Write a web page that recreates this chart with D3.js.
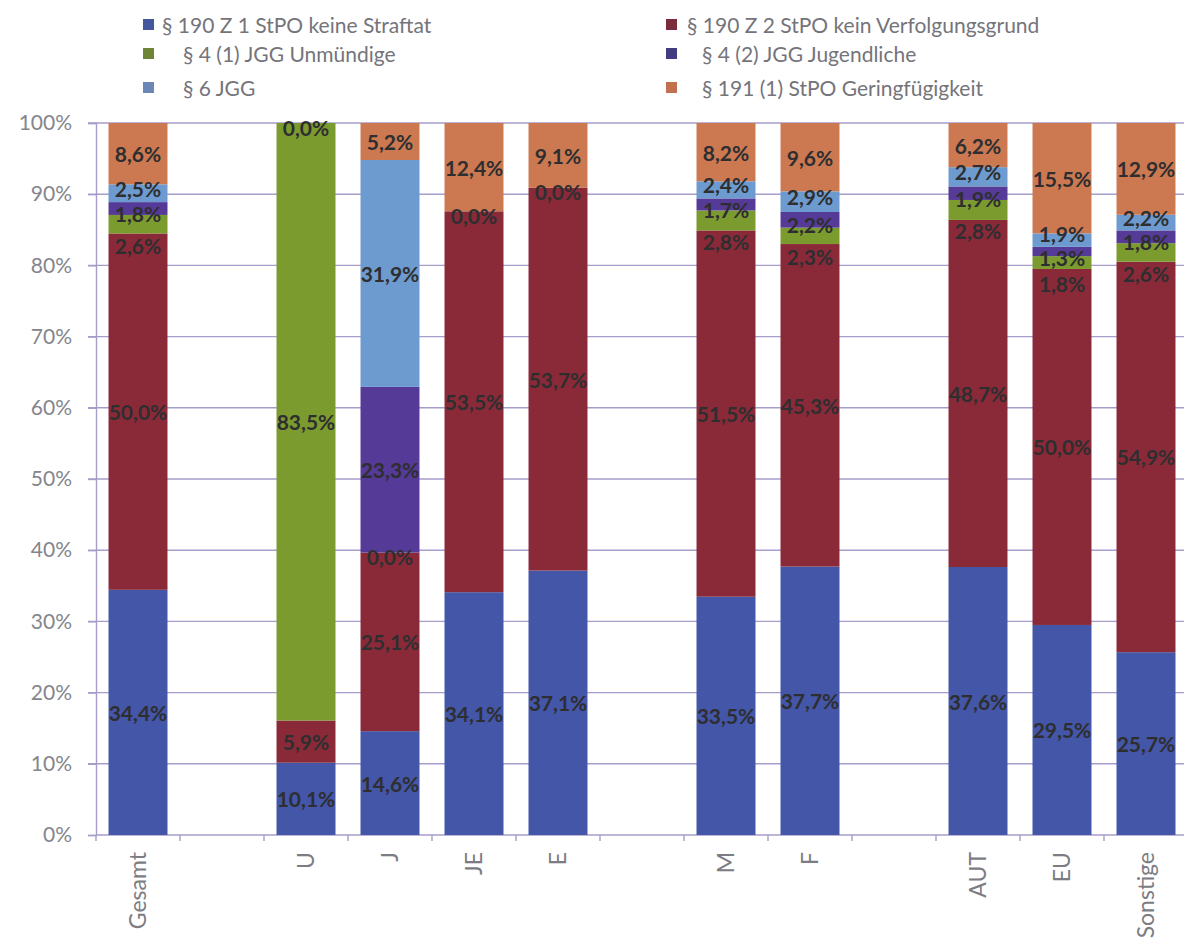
<!DOCTYPE html>
<html><head><meta charset="utf-8">
<script src="https://cdn.jsdelivr.net/npm/d3@7"></script>
<style>body{margin:0;background:#fff}</style></head>
<body>
<svg id="c" width="1184" height="938"></svg>
<script>
// ---- data ----
const categories = ["Gesamt", null, "U", "J", "JE", "E", null, "M", "F", null, "AUT", "EU", "Sonstige"];
const seriesNames = [
  "§ 190 Z 1 StPO keine Straftat",
  "§ 190 Z 2 StPO kein Verfolgungsgrund",
  "§ 4 (1) JGG Unmündige",
  "§ 4 (2) JGG Jugendliche",
  "§ 6 JGG",
  "§ 191 (1) StPO Geringfügigkeit"
];
const keineStraftat       = [34.4, null, 10.1, 14.6, 34.1, 37.1, null, 33.5, 37.7, null, 37.6, 29.5, 25.7];
const keinVerfolgungsgrund= [50.0, null,  5.9, 25.1, 53.5, 53.7, null, 51.5, 45.3, null, 48.7, 50.0, 54.9];
const unmuendige          = [ 2.6, null, 83.5,  0.0,  0.0,  0.0, null,  2.8,  2.3, null,  2.8,  1.8,  2.6];
const jugendliche         = [ 1.8, null, null, 23.3, null, null, null,  1.7,  2.2, null,  1.9,  1.3,  1.8];
const jgg6                = [ 2.5, null, null, 31.9, null, null, null,  2.4,  2.9, null,  2.7,  1.9,  2.2];
const geringfuegigkeit    = [ 8.6, null,  0.0,  5.2, 12.4,  9.1, null,  8.2,  9.6, null,  6.2, 15.5, 12.9];
const yTicks = [0, 0.1, 0.2, 0.3, 0.4, 0.5, 0.6, 0.7, 0.8, 0.9, 1.0];

// ---- styles ----
const colors = ["#4356a8", "#8a2a38", "#7b9b2e", "#553a98", "#6d9bcf", "#cc7952"];
const legendColors = ["#45579c", "#7a2c3c", "#6f8436", "#423c80", "#6a87b6", "#c2714f"];
const smallShift = [0, 0, 21, 5, -5, 0];   // px nudge of labels on thin segments
const labelGap = 24;                       // min vertical spacing of labels in one bar

const seriesValues = [keineStraftat, keinVerfolgungsgrund, unmuendige, jugendliche, jgg6, geringfuegigkeit];
const keys = d3.range(seriesValues.length);
const rows = categories.map((c, i) => {
  const r = {idx: i, cat: c};
  keys.forEach(k => r[k] = seriesValues[k][i] == null ? 0 : seriesValues[k][i]);
  return r;
}).filter(r => r.cat !== null);

const svg = d3.select("#c");
const plotL = 96, plotR = 1188, plotT = 123, plotB = 835;

const x = d3.scaleBand().domain(d3.range(categories.length)).range([plotL, plotR])
  .paddingInner(0.298).paddingOuter(0.149);
const y = d3.scaleLinear().domain([0, 1]).range([plotB, plotT]);

// gridlines
const gridColor = "#a69dcb";
svg.append("g").selectAll("line").data(yTicks.filter(t => t > 0)).join("line")
  .attr("x1", plotL - 8).attr("x2", plotR).attr("y1", d => y(d)).attr("y2", d => y(d))
  .attr("stroke", gridColor).attr("stroke-width", 1.4);

// y axis
const yAxis = svg.append("g").attr("transform", `translate(${plotL},0)`)
  .call(d3.axisLeft(y).tickValues(yTicks).tickSize(8).tickFormat(d3.format(".0%")));
yAxis.select(".domain").attr("stroke", gridColor).attr("stroke-width", 1.4);
yAxis.selectAll(".tick line").attr("stroke", gridColor).attr("stroke-width", 1.4);
yAxis.selectAll(".tick text").attr("x", -24).attr("fill", "#85858c")
  .style("font-family", "Lato").style("font-size", "21px");

// x axis with ticks at slot boundaries
const bounds = d3.range(categories.length + 1).map(i => plotL + i * x.step());
svg.append("line").attr("x1", plotL).attr("x2", plotR).attr("y1", plotB).attr("y2", plotB)
  .attr("stroke", gridColor).attr("stroke-width", 1.4);
svg.append("g").selectAll("line").data(bounds).join("line")
  .attr("x1", d => d).attr("x2", d => d).attr("y1", plotB).attr("y2", plotB + 6)
  .attr("stroke", gridColor).attr("stroke-width", 1.4);
svg.append("g").selectAll("text").data(rows).join("text")
  .attr("transform", d => `translate(${x(d.idx) + x.bandwidth() / 2 + 8},852) rotate(-90)`)
  .attr("text-anchor", "end").attr("fill", "#7c7c82")
  .style("font-family", "Lato").style("font-size", "23px")
  .text(d => d.cat);

// stacks
const stack = d3.stack().keys(keys).offset(d3.stackOffsetExpand);
const layers = stack(rows);
const g = svg.append("g");
layers.forEach((layer, k) => {
  g.append("g").attr("fill", colors[k]).selectAll("rect").data(layer).join("rect")
    .attr("x", d => x(d.data.idx)).attr("width", x.bandwidth())
    .attr("y", d => y(d[1])).attr("height", d => y(d[0]) - y(d[1]));
});

// labels: ideal position, then relax collisions within each bar
const fmt = v => d3.format(".1f")(v).replace(".", ",") + "%";
const labelSets = rows.map(r => ({r, items: []}));
layers.forEach((layer, k) => {
  layer.forEach((d, j) => {
    const v = seriesValues[k][d.data.idx];
    if (v == null) return;
    let cy = y((d[0] + d[1]) / 2);
    if (v === 0) cy += 4;
    else if (v < 5) cy += smallShift[k];
    labelSets[j].items.push({v, cy});
  });
});
labelSets.forEach(s => {
  const it = s.items.sort((a, b) => a.cy - b.cy);
  for (let pass = 0; pass < 30; pass++) {
    let moved = false;
    for (let i = 1; i < it.length; i++) {
      const d = it[i].cy - it[i - 1].cy;
      if (d < labelGap) {
        const push = (labelGap - d) / 2;
        it[i - 1].cy -= push; it[i].cy += push; moved = true;
      }
    }
    if (!moved) break;
  }
});
const lg = svg.append("g");
labelSets.forEach(s => {
  s.items.forEach(it => {
    lg.append("text").attr("x", x(s.r.idx) + x.bandwidth() / 2).attr("y", it.cy)
      .attr("text-anchor", "middle").attr("dominant-baseline", "central")
      .attr("fill", "#2e2e30").style("font-family", "Lato").style("font-weight", "bold")
      .style("font-size", "21px").text(fmt(it.v));
  });
});

// legend
const legendPos = [
  {sx: 143, tx: 162, cy: 24}, {sx: 666, tx: 687, cy: 24},
  {sx: 143, tx: 183, cy: 53}, {sx: 666, tx: 702, cy: 53},
  {sx: 143, tx: 183, cy: 87}, {sx: 666, tx: 702, cy: 87}
];
const leg = svg.append("g");
seriesNames.forEach((n, k) => {
  const p = legendPos[k];
  leg.append("rect").attr("x", p.sx).attr("y", p.cy - 5).attr("width", 11).attr("height", 11)
    .attr("fill", legendColors[k]);
  leg.append("text").attr("x", p.tx).attr("y", p.cy).attr("dominant-baseline", "central")
    .attr("fill", "#74747a").style("font-family", "Lato").style("font-size", "21px").text(n);
});
</script>
</body></html>
